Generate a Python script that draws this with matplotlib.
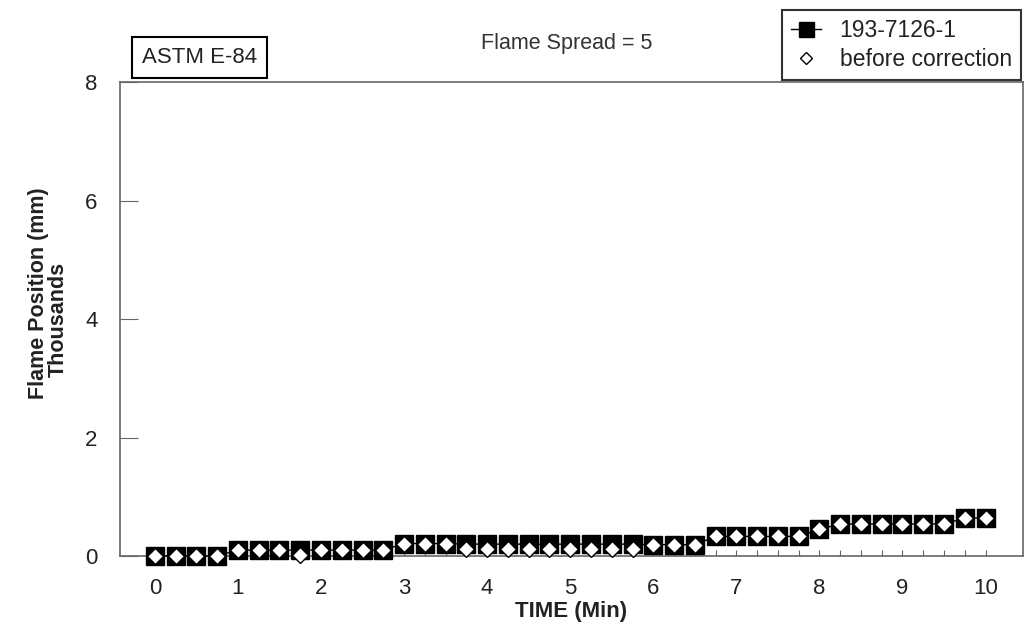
import numpy as np
import matplotlib.pyplot as plt

plt.rcParams['font.family'] = ['Liberation Sans', 'DejaVu Sans']

# Time in minutes, one reading every 15 s
time_min = np.arange(0, 10.01, 0.25)

# Flame position in thousands of mm
corrected = [0.0, 0.0, 0.0, 0.0,
             0.1, 0.1, 0.1, 0.1,
             0.1, 0.1, 0.1, 0.1,
             0.21, 0.21, 0.21,
             0.2, 0.2, 0.2, 0.2, 0.2, 0.2, 0.2, 0.2, 0.2,
             0.19, 0.19, 0.19,
             0.33, 0.33, 0.33, 0.33, 0.33,
             0.45,
             0.54, 0.54, 0.54, 0.54, 0.54, 0.54,
             0.64, 0.64]
before = [0.0, 0.0, 0.0, 0.0,
          0.1, 0.1, 0.1, 0.02,
          0.1, 0.1, 0.1, 0.1,
          0.21, 0.21, 0.21,
          0.11, 0.11, 0.11, 0.11, 0.11, 0.11, 0.11, 0.11, 0.11,
          0.19, 0.19, 0.19,
          0.33, 0.33, 0.33, 0.33, 0.33,
          0.45,
          0.54, 0.54, 0.54, 0.54, 0.54, 0.54,
          0.64, 0.64]

fig = plt.figure(figsize=(10.36, 6.42), dpi=100)
ax = fig.add_axes([0.1158, 0.134, 0.8716, 0.738])

ax.plot(time_min, corrected, color='black', marker='s', markersize=13.5,
        linewidth=1, label='193-7126-1', clip_on=False, zorder=3)
ax.plot(time_min, before, linestyle='none', marker='D', markersize=8,
        markerfacecolor='white', markeredgecolor='black', markeredgewidth=1,
        label='before correction', clip_on=False, zorder=4)

ax.set_xlim(-0.42, 10.45)
ax.set_ylim(0, 8)
ax.set_xticks(range(0, 11))
ax.set_xticks(time_min, minor=True)
ax.set_yticks([0, 2, 4, 6, 8])

ax.tick_params(axis='both', labelsize=16, colors='#222222')
ax.tick_params(axis='y', direction='in', length=13, width=0.8, pad=16,
               color='#666666')
ax.tick_params(axis='x', which='both', direction='in', length=4, width=0.8,
               pad=16, color='#666666')
for s in ax.spines.values():
    s.set_color('#666666')
    s.set_linewidth(1.2)

ax.set_xlabel('TIME (Min)', fontsize=16, fontweight='bold', color='#222222',
              labelpad=1)
fig.text(0.037, 0.543, 'Flame Position (mm)', rotation=90, fontsize=15.5,
         fontweight='bold', color='#222222', ha='center', va='center')
fig.text(0.056, 0.502, 'Thousands', rotation=90, fontsize=15.5,
         fontweight='bold', color='#222222', ha='center', va='center')

fig.text(0.547, 0.933, 'Flame Spread = 5', fontsize=15.5, color='#333333',
         ha='center', va='center')
fig.text(0.1925, 0.911, 'ASTM E-84', fontsize=16, color='#222222',
         ha='center', va='center',
         bbox=dict(boxstyle='square,pad=0.45', facecolor='white',
                   edgecolor='black', linewidth=1.5))

leg = fig.legend(loc='upper right', bbox_to_anchor=(0.992, 0.995), fontsize=16.5,
                 frameon=True, fancybox=False, edgecolor='black',
                 handlelength=1.3, handletextpad=0.8, borderpad=0.4,
                 borderaxespad=0.3, labelspacing=0.25, markerscale=0.8)
leg.get_frame().set_linewidth(1.5)
for t in leg.get_texts():
    t.set_color('#222222')

fig.savefig('out.png', dpi=100)
